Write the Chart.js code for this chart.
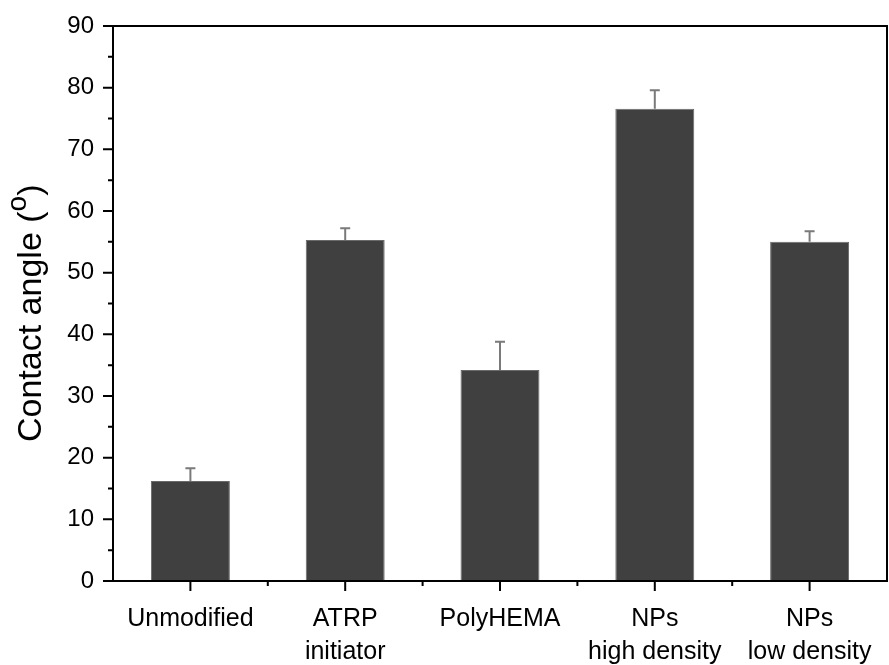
<!DOCTYPE html>
<html lang="en">
	<head>
		<meta charset="utf-8" />
		<title>Contact angle</title>
		<script src="https://cdn.jsdelivr.net/npm/chart.js@4.4.0/dist/chart.umd.min.js"></script>
		<style>
			body { margin: 0; background: #fff; }
		</style>
	</head>
	<body>

		<canvas id="myChart" width="889" height="665"></canvas>
		<script type="text/javascript">

			const categories = ['Unmodified', ['ATRP', 'initiator'], 'PolyHEMA', ['NPs', 'high density'], ['NPs', 'low density']];
			const angles = [16.2, 55.3, 34.2, 76.6, 55.0];
			const errors = [2.1, 1.9, 4.6, 3.0, 1.7];
			const yTicks = [0, 10, 20, 30, 40, 50, 60, 70, 80, 90];

			const FONT = "Arial, 'Liberation Sans', sans-serif";

			// error bars (upper half only), drawn from the data through the scales
			const errorBars = {
				id: 'errorBars',
				afterDatasetsDraw(chart) {
					const ctx = chart.ctx;
					const x = chart.scales.x, y = chart.scales.y;
					ctx.save();
					ctx.strokeStyle = '#7a7a7a';
					ctx.lineWidth = 2;
					angles.forEach((v, i) => {
						const px = x.getPixelForValue(i);
						const top = y.getPixelForValue(v + errors[i]);
						const base = y.getPixelForValue(v);
						ctx.beginPath();
						ctx.moveTo(px, base);
						ctx.lineTo(px, top);
						ctx.moveTo(px - 5, top);
						ctx.lineTo(px + 5, top);
						ctx.stroke();
					});
					ctx.restore();
				}
			};

			// box frame, outward ticks and the rotated title with superscript
			const frame = {
				id: 'frame',
				afterDraw(chart) {
					const ctx = chart.ctx;
					const a = chart.chartArea;
					const x = chart.scales.x, y = chart.scales.y;
					ctx.save();
					ctx.strokeStyle = '#000';
					ctx.lineWidth = 2;
					ctx.strokeRect(a.left, a.top, a.right - a.left, a.bottom - a.top);

					ctx.beginPath();
					yTicks.forEach(t => {
						const py = y.getPixelForValue(t);
						ctx.moveTo(a.left, py);
						ctx.lineTo(a.left - 10, py);
						if (t < 90) {
							const pm = y.getPixelForValue(t + 5);
							ctx.moveTo(a.left, pm);
							ctx.lineTo(a.left - 5, pm);
						}
					});
					const step = (a.right - a.left) / categories.length;
					categories.forEach((c, i) => {
						const px = x.getPixelForValue(i);
						ctx.moveTo(px, a.bottom);
						ctx.lineTo(px, a.bottom + 10);
						if (i > 0) {
							const pb = a.left + step * i;
							ctx.moveTo(pb, a.bottom);
							ctx.lineTo(pb, a.bottom + 5);
						}
					});
					ctx.stroke();

					// y title
					ctx.translate(41, 442);
					ctx.rotate(-Math.PI / 2);
					ctx.fillStyle = '#000';
					ctx.textBaseline = 'alphabetic';
					ctx.textAlign = 'left';
					ctx.font = '34px ' + FONT;
					const main = 'Contact angle (';
					ctx.fillText(main, 0, 0);
					let w = ctx.measureText(main).width;
					ctx.font = '28px ' + FONT;
					ctx.fillText('o', w, -15);
					w += ctx.measureText('o').width;
					ctx.font = '34px ' + FONT;
					ctx.fillText(')', w, 0);
					ctx.restore();
				}
			};

			const ctx = document.getElementById('myChart').getContext('2d');
			const myChart = new Chart(ctx, {
				type: 'bar',
				data: {
					labels: categories,
					datasets: [{
						data: angles,
						backgroundColor: '#404040',
						borderColor: '#6a6a6a',
						borderWidth: 1,
						categoryPercentage: 1,
						barPercentage: 0.51
					}]
				},
				options: {
					responsive: false,
					animation: false,
					layout: { padding: { top: 26, right: 2, left: 0, bottom: 0 } },
					plugins: {
						legend: { display: false },
						tooltip: { enabled: false }
					},
					scales: {
						x: {
							grid: { display: false, drawTicks: false },
							border: { display: false },
							ticks: {
								color: '#000',
								padding: 22,
								maxRotation: 0,
								autoSkip: false,
								font: { family: FONT, size: 25, lineHeight: 1.3 }
							},
							afterFit(scale) {
								scale.height = 84;
								scale.paddingLeft = 0;
								scale.paddingRight = 0;
							}
						},
						y: {
							min: 0,
							max: 90,
							grid: { display: false, drawTicks: false },
							border: { display: false },
							ticks: {
								stepSize: 10,
								color: '#000',
								padding: 19,
								font: { family: FONT, size: 24 }
							},
							afterFit(scale) {
								scale.width = 113;
								scale.paddingTop = 0;
								scale.paddingBottom = 0;
							}
						}
					}
				},
				plugins: [errorBars, frame]
			});
		</script>
	</body>
</html>
